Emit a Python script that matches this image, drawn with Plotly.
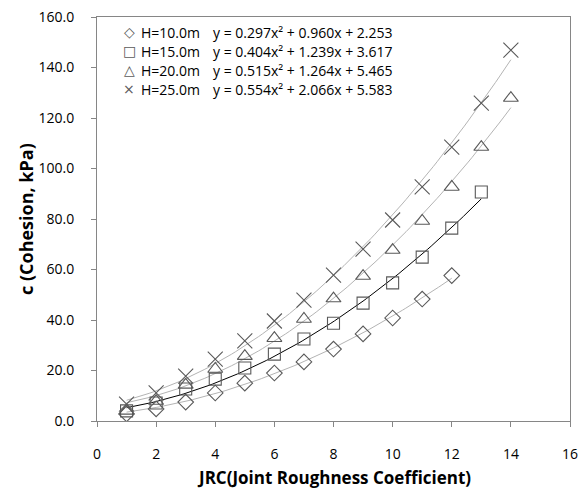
import numpy as np
import plotly.graph_objects as go

# ---- data ----
jrc_10 = [1, 2, 3, 4, 5, 6, 7, 8, 9, 10, 11, 12]
c_10 = [2.8, 4.8, 7.5, 11.1, 15.0, 19.0, 23.4, 28.5, 34.5, 40.8, 48.3, 57.6]

jrc_15 = [1, 2, 3, 4, 5, 6, 7, 8, 9, 10, 11, 12, 13]
c_15 = [4.0, 7.1, 12.7, 16.6, 21.0, 26.5, 32.5, 38.7, 46.7, 54.7, 64.9, 76.4, 90.7]

jrc_20 = [1, 2, 3, 4, 5, 6, 7, 8, 9, 10, 11, 12, 13, 14]
c_20 = [4.0, 7.9, 14.3, 20.6, 25.7, 32.8, 40.4, 48.5, 57.4, 67.7, 79.2, 92.7, 108.5, 127.9]

jrc_25 = [1, 2, 3, 4, 5, 6, 7, 8, 9, 10, 11, 12, 13, 14]
c_25 = [6.7, 11.1, 17.8, 24.5, 31.7, 39.6, 47.9, 57.8, 68.1, 79.6, 92.7, 108.5, 125.9, 146.9]

# trendline coefficients as printed in the legend (a, b, c)
coef_10 = [0.297, 0.960, 2.253]
coef_15 = [0.404, 1.239, 3.617]
coef_20 = [0.515, 1.264, 5.465]
coef_25 = [0.554, 2.066, 5.583]

series_names = ["H=10.0m", "H=15.0m", "H=20.0m", "H=25.0m"]
legend_glyphs = ["◇", "□", "△", "×"]
equations = [
    "y = 0.297x² + 0.960x + 2.253",
    "y = 0.404x² + 1.239x + 3.617",
    "y = 0.515x² + 1.264x + 5.465",
    "y = 0.554x² + 2.066x + 5.583",
]

x_ticks = [0, 2, 4, 6, 8, 10, 12, 14, 16]
y_ticks = [0, 20, 40, 60, 80, 100, 120, 140, 160]

FONT = "Open Sans"
mk_col = "#595959"

series = [
    (jrc_10, c_10, coef_10, "diamond-open", 12, "#b4b4b4"),
    (jrc_15, c_15, coef_15, "square-open", 12, "#000000"),
    (jrc_20, c_20, coef_20, "triangle-up-open", 13, "#b4b4b4"),
    (jrc_25, c_25, coef_25, "x-thin-open", 15, "#b4b4b4"),
]

fig = go.Figure()

# trendlines
for (xs, ys, coef, sym, sz, lcol) in series:
    xx = np.linspace(min(xs), max(xs), 100)
    yy = np.polyval(coef, xx)
    fig.add_trace(go.Scatter(x=xx, y=yy, mode="lines",
                             line=dict(color=lcol, width=1),
                             showlegend=False, hoverinfo="skip"))

# markers
for (xs, ys, coef, sym, sz, lcol), nm in zip(series, series_names):
    fig.add_trace(go.Scatter(
        x=xs, y=ys, mode="markers", name=nm, showlegend=False,
        marker=dict(symbol=sym, size=sz, color=mk_col,
                    line=dict(color=mk_col, width=1.1)),
    ))

# legend block (Excel-style: symbol, series name, fitted equation)
annotations = []
for i, (g, nm, eq) in enumerate(zip(legend_glyphs, series_names, equations)):
    dy = -15 - 19 * i
    annotations.append(dict(xref="paper", yref="paper", x=0, y=1, xshift=32, yshift=dy,
                            text=g, showarrow=False, xanchor="center", yanchor="middle",
                            font=dict(family="DejaVu Sans", size=14, color=mk_col)))
    annotations.append(dict(xref="paper", yref="paper", x=0, y=1, xshift=42, yshift=dy,
                            text=nm, showarrow=False, xanchor="left", yanchor="middle",
                            font=dict(family=FONT, size=14, color="#000000")))
    annotations.append(dict(xref="paper", yref="paper", x=0, y=1, xshift=114, yshift=dy,
                            text=eq, showarrow=False, xanchor="left", yanchor="middle",
                            font=dict(family=FONT, size=14, color="#000000")))

# axis titles
annotations.append(dict(xref="paper", yref="paper", x=0.5, y=0, yshift=-56,
                        text="<b>JRC(Joint Roughness Coefficient)</b>", showarrow=False,
                        xanchor="center", yanchor="middle",
                        font=dict(family=FONT, size=17, color="#000000")))
annotations.append(dict(xref="paper", yref="paper", x=0, y=0.5, xshift=-71,
                        text="<b>c (Cohesion, kPa)</b>", showarrow=False, textangle=-90,
                        xanchor="center", yanchor="middle",
                        font=dict(family=FONT, size=18, color="#000000")))

fig.update_layout(
    width=579, height=488,
    margin=dict(l=97, r=9, t=17, b=67, autoexpand=False),
    paper_bgcolor="white", plot_bgcolor="white",
    font=dict(family=FONT, size=14, color="#000000"),
    showlegend=False,
    annotations=annotations,
    xaxis=dict(
        range=[0, 16], tickvals=x_ticks, ticktext=[str(v) for v in x_ticks],
        showgrid=False, zeroline=False, automargin=False,
        showline=True, linecolor="#868686", linewidth=1, mirror=True,
        ticks="outside", ticklen=5, tickcolor="#868686",
        ticklabelstandoff=15, ticklabeloverflow="allow",
        tickfont=dict(size=14, family=FONT),
    ),
    yaxis=dict(
        range=[0, 160], tickvals=y_ticks, ticktext=[f"{v:.1f}" for v in y_ticks],
        showgrid=False, zeroline=False, automargin=False,
        showline=True, linecolor="#868686", linewidth=1, mirror=True,
        ticks="outside", ticklen=5, tickcolor="#868686",
        ticklabelstandoff=14, ticklabeloverflow="allow",
        tickfont=dict(size=14, family=FONT),
    ),
)

fig.write_html("out.html", config={"displayModeBar": False},
               post_script="document.body.style.margin='0';document.body.style.overflow='hidden';")
